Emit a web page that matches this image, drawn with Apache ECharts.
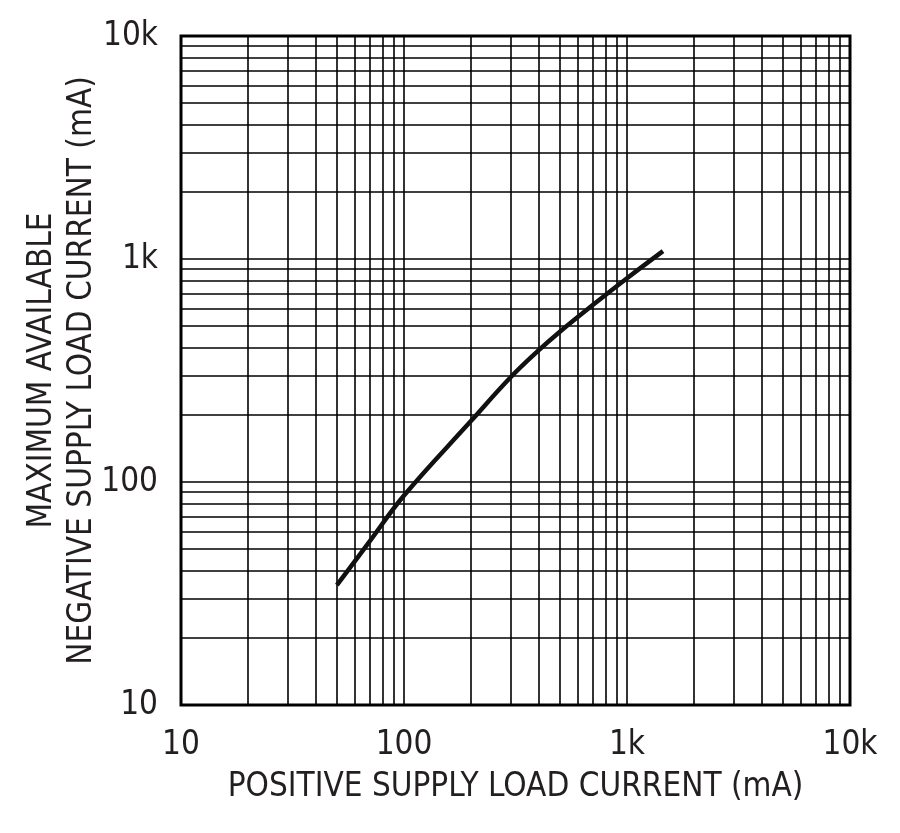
<!DOCTYPE html>
<html>
<head>
<meta charset="utf-8">
<script src="https://cdn.jsdelivr.net/npm/echarts@6/dist/echarts.min.js"></script>
<style>
html,body{margin:0;padding:0;background:#fff;}
#chart{width:900px;height:833px;}
</style>
</head>
<body>
<div id="chart"></div>
<script>
// Positive supply load current (mA)
const posCurrent = [50, 70, 100, 200, 300, 400, 500, 700, 1000, 1450];
// Maximum available negative supply load current (mA)
const negCurrent = [34.5, 54, 87, 188, 294, 388, 472, 620, 820, 1085];
// Major tick labels
const tickValues = [10, 100, 1000, 10000];
const tickLabels = ['10', '100', '1k', '10k'];
// Minor grid lines
const minorGrid = [20, 30, 40, 50, 60, 70, 80, 90,
                   200, 300, 400, 500, 600, 700, 800, 900,
                   2000, 3000, 4000, 5000, 6000, 7000, 8000, 9000];

const FONT = "'Liberation Sans Narrow', 'DejaVu Sans Condensed', 'Arial Narrow', sans-serif";
const TXT = '#231f20';

function fmt(v) {
  const i = tickValues.findIndex(t => Math.abs(t - v) < 1e-6 * t);
  return i >= 0 ? tickLabels[i] : '';
}

const chart = echarts.init(document.getElementById('chart'), null, {renderer: 'canvas'});

const gridLineData = [];
minorGrid.forEach(v => gridLineData.push({xAxis: v}));
minorGrid.forEach(v => gridLineData.push({yAxis: v}));

chart.setOption({
  animation: false,
  backgroundColor: '#fff',
  grid: {
    left: 181, right: 50, top: 36, bottom: 128,
    show: true, borderColor: '#000', borderWidth: 3,
    containLabel: false, outerBoundsMode: 'none'
  },
  xAxis: {
    type: 'log', logBase: 10, min: 10, max: 10000,
    name: 'POSITIVE SUPPLY LOAD CURRENT (mA)',
    nameLocation: 'middle', nameGap: 66, nameMoveOverlap: false,
    nameTextStyle: {fontFamily: FONT, fontSize: 33, color: TXT},
    axisLine: {show: false},
    axisTick: {show: false},
    splitLine: {show: true, lineStyle: {color: '#000', width: 1.6}},
    axisLabel: {fontFamily: FONT, fontSize: 33, color: TXT, margin: 24, formatter: fmt}
  },
  yAxis: {
    type: 'log', logBase: 10, min: 10, max: 10000,
    name: 'MAXIMUM AVAILABLE\nNEGATIVE SUPPLY LOAD CURRENT (mA)',
    nameLocation: 'middle', nameGap: 79, nameMoveOverlap: false,
    nameTextStyle: {fontFamily: FONT, fontSize: 33, color: TXT, lineHeight: 40},
    axisLine: {show: false},
    axisTick: {show: false},
    splitLine: {show: true, lineStyle: {color: '#000', width: 1.6}},
    axisLabel: {fontFamily: FONT, fontSize: 33, color: TXT, margin: 23, formatter: fmt}
  },
  series: [
    {
      type: 'line', data: [], z: 1, silent: true,
      markLine: {
        silent: true, symbol: ['none', 'none'],
        label: {show: false},
        lineStyle: {color: '#000', width: 1.6, type: 'solid'},
        emphasis: {disabled: true},
        data: gridLineData
      }
    },
    {
      type: 'line', z: 5,
      data: posCurrent.map((x, i) => [x, negCurrent[i]]),
      smooth: 0.4, showSymbol: false, symbol: 'none',
      lineStyle: {color: '#111', width: 4.5}
    }
  ]
});
</script>
</body>
</html>
